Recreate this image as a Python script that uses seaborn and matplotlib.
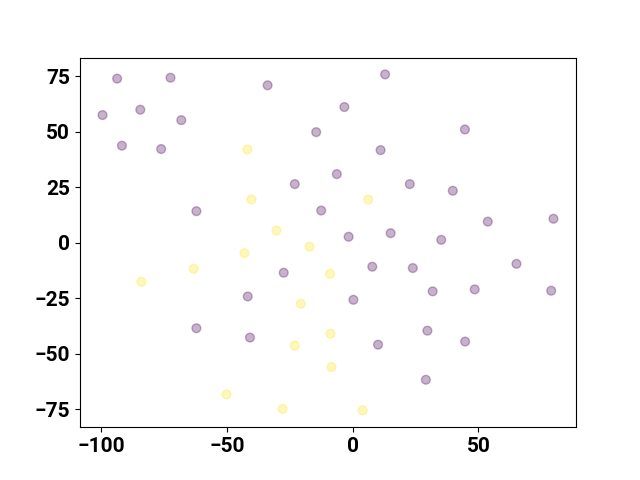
import matplotlib
matplotlib.use("Agg")
import matplotlib.pyplot as plt
import seaborn as sns
import pandas as pd

purple_x = [-99.4, -93.6, -91.7, -84.4, -76.1, -72.4, -68.1, -62.1, -62.1, -41.7,
            -40.8, -33.8, -27.4, -23.0, -14.5, -12.5, -6.3, -3.3, -1.6, 0.3,
            7.8, 10.1, 11.1, 12.9, 15.1, 22.7, 23.9, 29.1, 29.7, 31.8,
            35.2, 39.8, 44.6, 44.7, 48.5, 53.7, 65.1, 78.9, 79.8]
purple_y = [57.5, 73.9, 43.7, 59.9, 42.2, 74.3, 55.2, 14.2, -38.5, -24.2,
            -42.7, 70.9, -13.5, 26.4, 49.8, 14.5, 30.9, 61.1, 2.7, -25.7,
            -10.8, -45.9, 41.7, 75.8, 4.3, 26.4, -11.4, -61.7, -39.6, -21.9,
            1.3, 23.4, 51.0, -44.5, -21.0, 9.5, -9.5, -21.6, 10.8]
yellow_x = [-84.0, -63.2, -50.1, -43.0, -41.8, -40.2, -30.3, -27.8, -23.0, -20.6,
            -17.1, -9.0, -8.8, -8.4, 4.0, 6.2]
yellow_y = [-17.6, -11.7, -68.3, -4.7, 42.0, 19.5, 5.5, -74.8, -46.3, -27.5,
            -1.8, -14.0, -41.0, -56.0, -75.5, 19.4]
groups = ["A", "B"]
colors = ["#440154", "#fde725"]

df = pd.DataFrame({
    "x": purple_x + yellow_x,
    "y": purple_y + yellow_y,
    "g": [groups[0]] * len(purple_x) + [groups[1]] * len(yellow_x),
})

fig, ax = plt.subplots(figsize=(6.4, 4.8), dpi=100)
sns.scatterplot(data=df, x="x", y="y", hue="g", palette=dict(zip(groups, colors)),
                alpha=0.3, s=40, edgecolor="face", linewidth=1, legend=False, ax=ax)
ax.set_xlabel("")
ax.set_ylabel("")
ax.set_xticks([-100, -50, 0, 50])
ax.set_yticks([-75, -50, -25, 0, 25, 50, 75])
for lab in ax.get_xticklabels() + ax.get_yticklabels():
    lab.set_fontfamily("Roboto")
    lab.set_fontweight("bold")
    lab.set_fontsize(15)
fig.savefig("out.png", dpi=100)
